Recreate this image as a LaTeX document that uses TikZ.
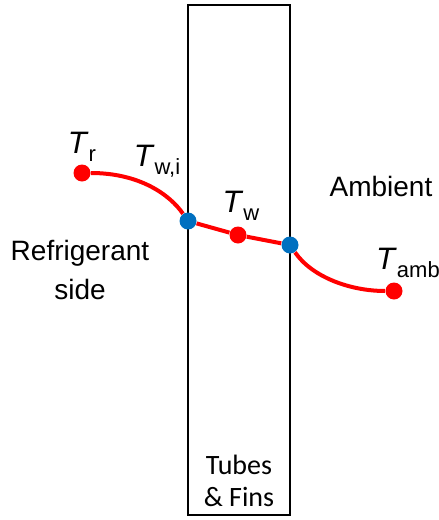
\documentclass[tikz,border=0pt]{standalone}
\usepackage{fontspec}
\setmainfont{Liberation Sans}
\newfontfamily\calfont{Carlito}
\usepackage{xcolor}
\usepackage{tikz}
\usetikzlibrary{positioning}
\definecolor{tempRed}{HTML}{FF0000}
\definecolor{wallBlue}{HTML}{0070C0}
\newcommand{\tsym}[1]{{\fontsize{15.5}{18}\selectfont\textit{T}}\raisebox{-0.55ex}{\fontsize{11}{12}\selectfont #1}}

\begin{document}
\begin{tikzpicture}[
  x=0.5pt, y=-0.5pt,
  every node/.style={font=\fontsize{14}{19.5}\selectfont},
  tdot/.style={circle, fill=tempRed, inner sep=0pt, minimum size=8.5pt},
  wdot/.style={tdot, fill=wallBlue},
  tline/.style={draw=tempRed, line width=2pt}
]
\useasboundingbox (0,0) rectangle (439,520);

% wall
\draw[line width=1pt] (188,5) rectangle (290,515);

% temperature points
\node[tdot] (tr)   at (82,173)  {};
\node[wdot] (twi)  at (188,221) {};
\node[tdot] (tw)   at (238,235) {};
\node[wdot] (two)  at (290,245) {};
\node[tdot] (tamb) at (394,291) {};

% profile
\draw[tline] (tr) .. controls (140,173) and (170,195) .. (twi);
\draw[tline] (twi) -- (tw);
\draw[tline] (tw) -- (two);
\draw[tline] (two) .. controls (312,277) and (350,291) .. (tamb);

% labels
\node (ltr)   at (82,147)  {\tsym{r}};
\node (ltwi)  at (157,161) {\tsym{w,i}};
\node (ltw)   at (241,206) {\tsym{w}};
\node (ltamb) at (408,263) {\tsym{amb}};
\node (amb)   at (381,186) {Ambient};
\node[align=center] (refr) at (80,270) {Refrigerant\\side};
\node[align=center, font=\calfont\fontsize{14}{16}\selectfont] (wall) at (239,481) {Tubes\\\&~Fins};
\end{tikzpicture}
\end{document}
